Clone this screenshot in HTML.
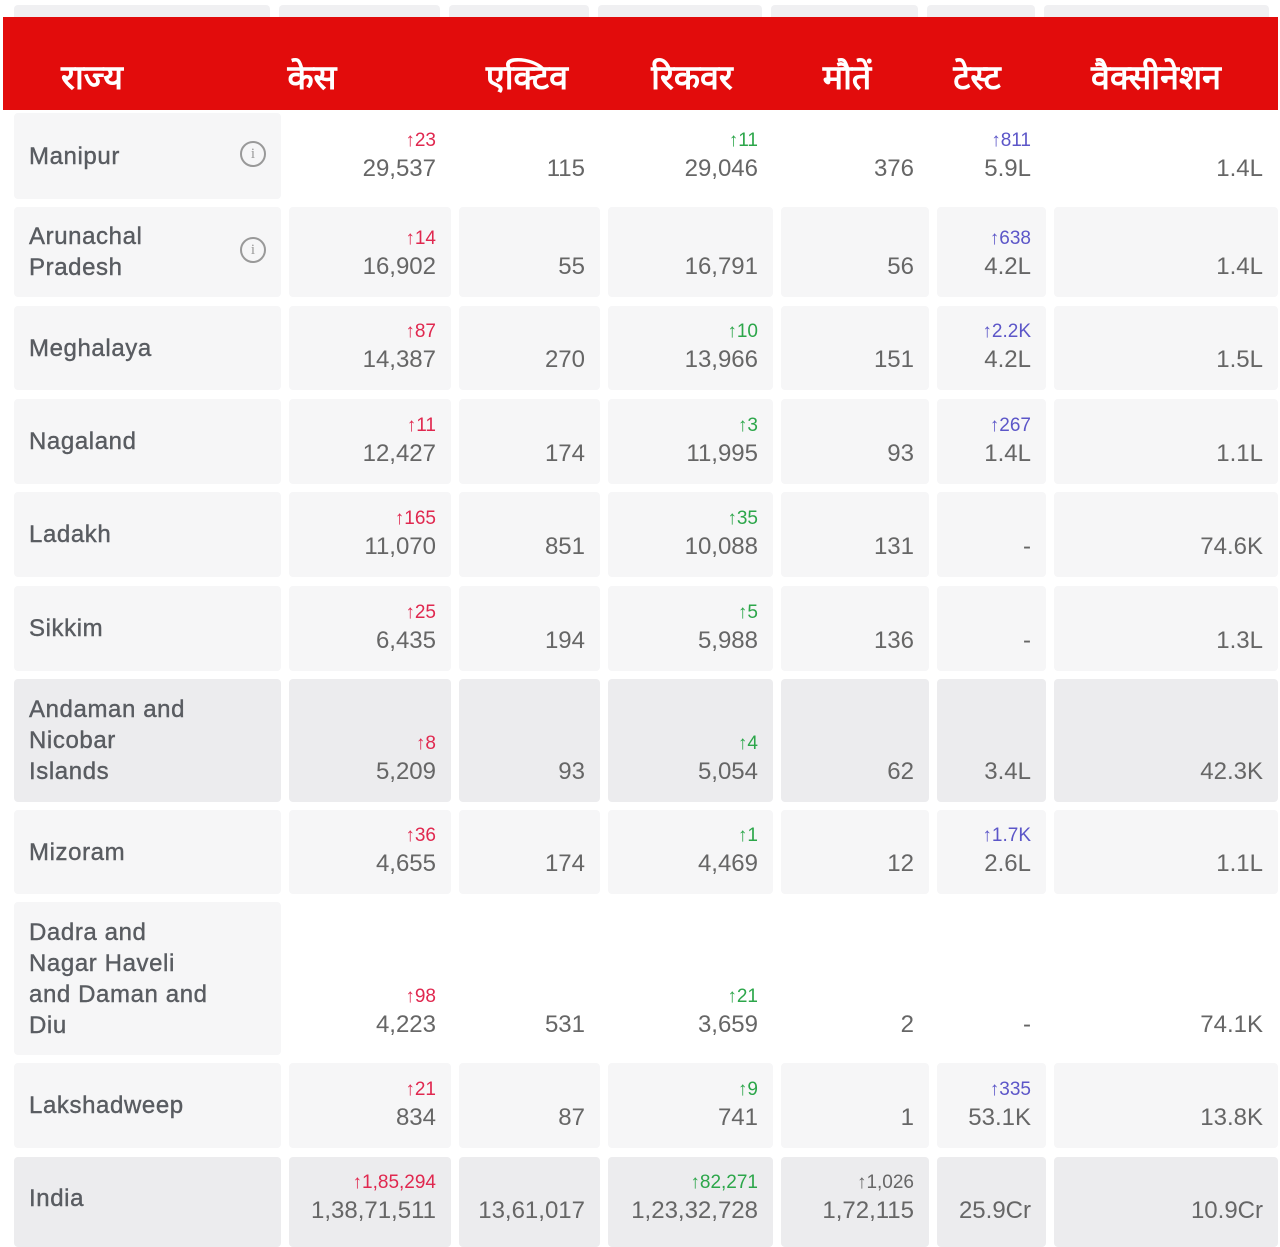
<!DOCTYPE html>
<html><head><meta charset="utf-8"><style>
body{margin:0;width:1280px;height:1240px;background:#fff;position:relative;overflow:hidden;font-family:"Liberation Sans",sans-serif;}
.tab{position:absolute;top:5px;height:20px;background:#f0f0f2;border-radius:4px;}
.hdr{position:absolute;left:3px;top:17px;width:1275px;height:93px;background:#e20c0c;}
.h{position:absolute;top:53px;transform:translateX(-50%);color:#fff;font-weight:bold;font-size:34px;font-family:"Liberation Serif","DejaVu Serif",serif;white-space:nowrap;}
.row{position:absolute;left:14px;display:flex;gap:8px;}
.c{box-sizing:border-box;background:#f6f6f7;border-radius:4px;display:flex;flex-direction:column;justify-content:flex-end;align-items:flex-end;padding:0 15px 16px 0;color:#666;font-size:24px;line-height:29px;}
.w .c{background:#fff}
.dk .c{background:#ececee}
.row .n{background:#f6f6f7;justify-content:center;align-items:flex-start;padding:0 0 0 15px;font-size:24px;line-height:31px;color:#595c61;letter-spacing:.6px;position:relative;-webkit-text-stroke:0.4px #595c61}
.dk .n{background:#ececee}
.d{font-size:19px;line-height:27px}
.r{color:#e0284f}.g{color:#2ca64a}.p{color:#5c56c8}
.i{position:absolute;right:15px;top:50%;margin-top:-15px;width:26px;height:26px;border:2px solid #999;border-radius:50%;box-sizing:border-box;font:15px/22px "Liberation Serif",serif;color:#999;text-align:center;letter-spacing:0;-webkit-text-stroke:0}
.c:nth-child(1){width:267px}.c:nth-child(2){width:162px}.c:nth-child(3){width:141px}.c:nth-child(4){width:165px}.c:nth-child(5){width:148px}.c:nth-child(6){width:109px}.c:nth-child(7){width:224px}
</style></head><body>
<div class="tab" style="left:14px;width:256px"></div><div class="tab" style="left:279px;width:161px"></div><div class="tab" style="left:449px;width:140px"></div><div class="tab" style="left:598px;width:164px"></div><div class="tab" style="left:771px;width:147px"></div><div class="tab" style="left:927px;width:108px"></div><div class="tab" style="left:1044px;width:225px"></div>
<div class="hdr"></div>
<div class="h" style="left:92px">राज्य</div><div class="h" style="left:312px">केस</div><div class="h" style="left:527px">एक्टिव</div><div class="h" style="left:692px">रिकवर</div><div class="h" style="left:847px">मौतें</div><div class="h" style="left:977px">टेस्ट</div><div class="h" style="left:1156px">वैक्सीनेशन</div>

<div class="row w" style="top:113px;height:86px"><div class="c n">Manipur<span class="i">i</span></div><div class="c"><span class="d r">↑23</span>29,537</div><div class="c">115</div><div class="c"><span class="d g">↑11</span>29,046</div><div class="c">376</div><div class="c"><span class="d p">↑811</span>5.9L</div><div class="c">1.4L</div></div>

<div class="row" style="top:207px;height:90px"><div class="c n">Arunachal<br>Pradesh<span class="i">i</span></div><div class="c"><span class="d r">↑14</span>16,902</div><div class="c">55</div><div class="c">16,791</div><div class="c">56</div><div class="c"><span class="d p">↑638</span>4.2L</div><div class="c">1.4L</div></div>

<div class="row" style="top:306px;height:84px"><div class="c n">Meghalaya</div><div class="c"><span class="d r">↑87</span>14,387</div><div class="c">270</div><div class="c"><span class="d g">↑10</span>13,966</div><div class="c">151</div><div class="c"><span class="d p">↑2.2K</span>4.2L</div><div class="c">1.5L</div></div>

<div class="row" style="top:399px;height:85px"><div class="c n">Nagaland</div><div class="c"><span class="d r">↑11</span>12,427</div><div class="c">174</div><div class="c"><span class="d g">↑3</span>11,995</div><div class="c">93</div><div class="c"><span class="d p">↑267</span>1.4L</div><div class="c">1.1L</div></div>

<div class="row" style="top:492px;height:85px"><div class="c n">Ladakh</div><div class="c"><span class="d r">↑165</span>11,070</div><div class="c">851</div><div class="c"><span class="d g">↑35</span>10,088</div><div class="c">131</div><div class="c">-</div><div class="c">74.6K</div></div>

<div class="row" style="top:586px;height:85px"><div class="c n">Sikkim</div><div class="c"><span class="d r">↑25</span>6,435</div><div class="c">194</div><div class="c"><span class="d g">↑5</span>5,988</div><div class="c">136</div><div class="c">-</div><div class="c">1.3L</div></div>

<div class="row dk" style="top:679px;height:123px"><div class="c n">Andaman and<br>Nicobar<br>Islands</div><div class="c"><span class="d r">↑8</span>5,209</div><div class="c">93</div><div class="c"><span class="d g">↑4</span>5,054</div><div class="c">62</div><div class="c">3.4L</div><div class="c">42.3K</div></div>

<div class="row" style="top:810px;height:84px"><div class="c n">Mizoram</div><div class="c"><span class="d r">↑36</span>4,655</div><div class="c">174</div><div class="c"><span class="d g">↑1</span>4,469</div><div class="c">12</div><div class="c"><span class="d p">↑1.7K</span>2.6L</div><div class="c">1.1L</div></div>

<div class="row w" style="top:902px;height:153px"><div class="c n">Dadra and<br>Nagar Haveli<br>and Daman and<br>Diu</div><div class="c"><span class="d r">↑98</span>4,223</div><div class="c">531</div><div class="c"><span class="d g">↑21</span>3,659</div><div class="c">2</div><div class="c">-</div><div class="c">74.1K</div></div>

<div class="row" style="top:1063px;height:85px"><div class="c n">Lakshadweep</div><div class="c"><span class="d r">↑21</span>834</div><div class="c">87</div><div class="c"><span class="d g">↑9</span>741</div><div class="c">1</div><div class="c"><span class="d p">↑335</span>53.1K</div><div class="c">13.8K</div></div>

<div class="row dk" style="top:1157px;height:90px"><div class="c n" style="padding-bottom:8px">India</div><div class="c" style="padding-bottom:22px"><span class="d r">↑1,85,294</span>1,38,71,511</div><div class="c" style="padding-bottom:22px">13,61,017</div><div class="c" style="padding-bottom:22px"><span class="d g">↑82,271</span>1,23,32,728</div><div class="c" style="padding-bottom:22px"><span class="d" style="color:#666">↑1,026</span>1,72,115</div><div class="c" style="padding-bottom:22px">25.9Cr</div><div class="c" style="padding-bottom:22px">10.9Cr</div></div>
</body></html>
